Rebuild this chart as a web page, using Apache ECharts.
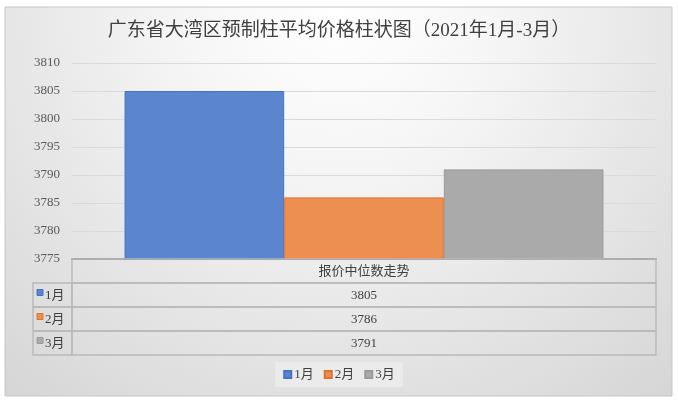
<!DOCTYPE html>
<html><head><meta charset="utf-8">
<script src="https://cdn.jsdelivr.net/npm/echarts@6/dist/echarts.min.js"></script>
<style>html,body{margin:0;padding:0;background:#fff;}#c{width:678px;height:402px;}</style>
</head><body><div id="c"></div>
<script>
const titleText = '广东省大湾区预制柱平均价格柱状图（2021年1月-3月）';
const categories = ['报价中位数走势'];
const months = ['1月', '2月', '3月'];
const values = [3805, 3786, 3791];
const yMin = 3775, yMax = 3810, yStep = 5;

const fills = ['#5b86cf', '#ee8f52', '#aaaaaa'];
const borders = ['#4472c4', '#e0722e', '#9a9a9a'];
const FONT = "'Liberation Serif','Noto Sans CJK SC',serif";
const GRID_L = 72, TABLE_L = 33;

const chart = echarts.init(document.getElementById('c'), null, {renderer: 'canvas'});

const barSeries = months.map((m, i) => ({
  type: 'bar', name: m, xAxisIndex: 0, yAxisIndex: 0,
  data: [values[i]],
  barGap: '0%', barCategoryGap: '18%',
  itemStyle: {color: fills[i], borderColor: borders[i], borderWidth: 1},
  z: 3
}));

const tableRows = [categories[0]].concat(months);
const tableData = tableRows.map((r, i) => [0, i]);

function renderTable(params, api) {
  const row = api.value(1);
  const left = api.coord([0, row]);
  const right = api.coord([1, row])[0];
  const h = api.size([0, 1])[1];
  const top = left[1] - h / 2;
  const cy = left[1];
  const nameW = GRID_L - TABLE_L;
  const lineStyle = {fill: 'none', stroke: '#b9b9b9', lineWidth: 1.4};
  const ch = [];
  const vx = left[0] + nameW;
  const font = "13px " + FONT;
  ch.push({type: 'rect', shape: {x: vx, y: top, width: right - vx, height: h}, style: lineStyle});
  if (row === 0) {
    ch.push({type: 'text', style: {text: tableRows[0], x: (vx + right) / 2, y: cy + 1, align: 'center', verticalAlign: 'middle', fill: '#404040', font: font}});
  } else {
    const k = row - 1;
    ch.push({type: 'rect', shape: {x: left[0] + 4, y: cy - 5.5, width: 6, height: 6}, style: {fill: fills[k], stroke: borders[k], lineWidth: 1}});
    ch.push({type: 'rect', shape: {x: left[0], y: top, width: nameW, height: h}, style: lineStyle});
    ch.push({type: 'text', style: {text: months[k], x: left[0] + 12, y: cy + 1, align: 'left', verticalAlign: 'middle', fill: '#404040', font: font}});
    ch.push({type: 'text', style: {text: String(values[k]), x: (vx + right) / 2, y: cy + 1, align: 'center', verticalAlign: 'middle', fill: '#404040', font: font}});
  }
  return {type: 'group', children: ch};
}

chart.setOption({
  animation: false,
  backgroundColor: '#ffffff',
  graphic: [{
    type: 'rect', z: -10, silent: true,
    shape: {x: 5, y: 7, width: 667, height: 389},
    style: {
      fill: {type: 'radial', x: 0.5, y: 0.0, r: 1.3, colorStops: [
        {offset: 0, color: '#ffffff'}, {offset: 0.3, color: '#f6f6f6'}, {offset: 0.65, color: '#e6e6e6'}, {offset: 1, color: '#d6d6d6'}]},
      stroke: '#c6c6c6', lineWidth: 1
    }
  }],
  title: {
    text: titleText, left: 'center', top: 22, padding: 0,
    textStyle: {fontFamily: FONT, fontSize: 19, fontWeight: 'normal', color: '#404040'}
  },
  legend: {
    data: months, bottom: 15, left: 'center',
    icon: 'rect', itemWidth: 7, itemHeight: 7, itemGap: 10,
    backgroundColor: '#ebebeb', padding: [6, 8],
    textStyle: {fontFamily: FONT, fontSize: 13, color: '#404040', padding: [0, 0, 0, -2]}
  },
  grid: [
    {left: GRID_L, right: 22, top: 63, bottom: 143},
    {left: TABLE_L, right: 22, top: 259, bottom: 47}
  ],
  xAxis: [
    {type: 'category', gridIndex: 0, data: categories,
     axisLine: {show: true, lineStyle: {color: '#8a8a8a', width: 2}},
     axisTick: {show: false}, axisLabel: {show: false}},
    {type: 'value', gridIndex: 1, min: 0, max: 1, show: false}
  ],
  yAxis: [
    {type: 'value', gridIndex: 0, min: yMin, max: yMax, interval: yStep,
     axisLine: {show: false}, axisTick: {show: false},
     axisLabel: {fontFamily: FONT, fontSize: 13, color: '#595959', margin: 12, formatter: v => String(v)},
     splitLine: {lineStyle: {color: '#dadada', width: 1}}},
    {type: 'category', gridIndex: 1, data: tableRows, inverse: true, show: false}
  ],
  series: barSeries.concat([{
    type: 'custom', xAxisIndex: 1, yAxisIndex: 1,
    data: tableData, renderItem: renderTable, silent: true, z: 4
  }])
});
</script>
</body></html>
